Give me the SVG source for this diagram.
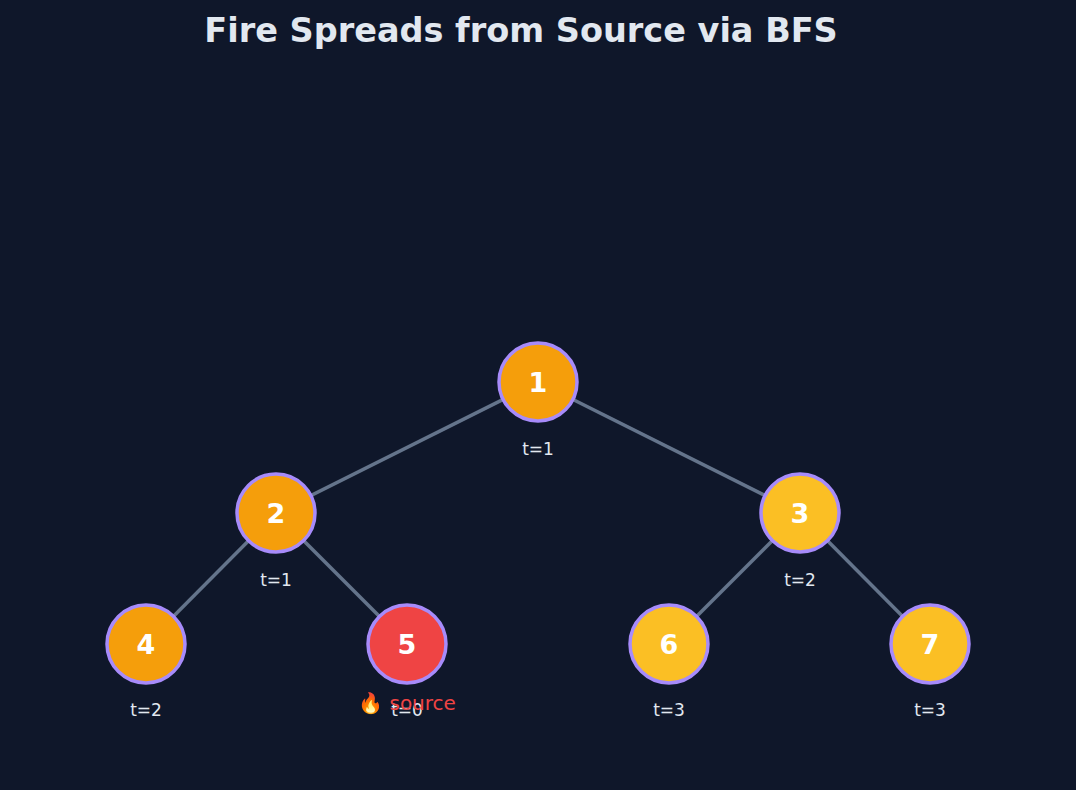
<svg xmlns="http://www.w3.org/2000/svg" width="1076" height="790" viewBox="0 0 1076 790">
<style>
.n{stroke:#a78bfa;stroke-width:3.5}
.o{fill:#f59e0b}.y{fill:#fbbf24}.r{fill:#ef4444}
.id{font-family:"DejaVu Sans",sans-serif;font-size:27px;font-weight:bold;fill:#fff;text-anchor:middle}
.t{font-family:"DejaVu Sans",sans-serif;font-size:17px;fill:#e2e8f0;text-anchor:middle}
.e{stroke:#64748b;stroke-width:3.5}
</style>
<rect width="1076" height="790" fill="#0f172a"/>
<text x="521" y="42" font-family="DejaVu Sans,sans-serif" font-size="33.5" font-weight="bold" fill="#e2e8f0" text-anchor="middle">Fire Spreads from Source via BFS</text>
<g id="edges">
<line class="e" x1="538" y1="382" x2="276" y2="513"/>
<line class="e" x1="538" y1="382" x2="800" y2="513"/>
<line class="e" x1="276" y1="513" x2="146" y2="644"/>
<line class="e" x1="276" y1="513" x2="407" y2="644"/>
<line class="e" x1="800" y1="513" x2="669" y2="644"/>
<line class="e" x1="800" y1="513" x2="930" y2="644"/>
</g>
<g id="n1"><circle class="n o" cx="538" cy="382" r="39"/><text class="id" x="538" y="392">1</text><text class="t" x="538" y="455">t=1</text></g>
<g id="n2"><circle class="n o" cx="276" cy="513" r="39"/><text class="id" x="276" y="523">2</text><text class="t" x="276" y="586">t=1</text></g>
<g id="n3"><circle class="n y" cx="800" cy="513" r="39"/><text class="id" x="800" y="523">3</text><text class="t" x="800" y="586">t=2</text></g>
<g id="n4"><circle class="n o" cx="146" cy="644" r="39"/><text class="id" x="146" y="654">4</text><text class="t" x="146" y="716">t=2</text></g>
<g id="n5"><circle class="n r" cx="407" cy="644" r="39"/><text class="id" x="407" y="654">5</text><text class="t" x="407" y="716">t=0</text><text x="407" y="710" font-family="DejaVu Sans,sans-serif" font-size="20" fill="#ef4444" text-anchor="middle">🔥 source</text></g>
<g id="n6"><circle class="n y" cx="669" cy="644" r="39"/><text class="id" x="669" y="654">6</text><text class="t" x="669" y="716">t=3</text></g>
<g id="n7"><circle class="n y" cx="930" cy="644" r="39"/><text class="id" x="930" y="654">7</text><text class="t" x="930" y="716">t=3</text></g>
</svg>
